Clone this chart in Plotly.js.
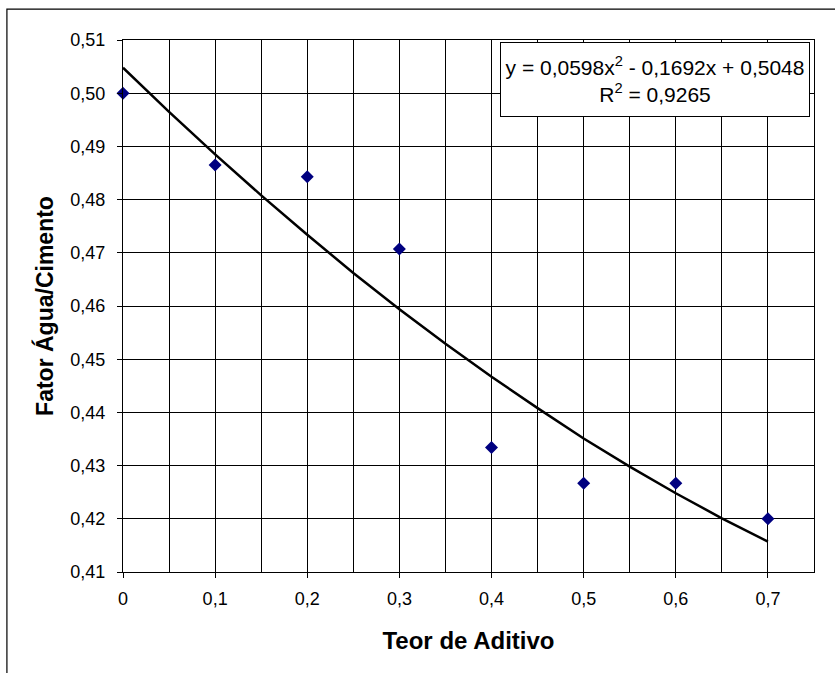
<!DOCTYPE html>
<html>
<head>
<meta charset="utf-8">
<script src="https://cdn.plot.ly/plotly-3.0.1.min.js"></script>
<style>html,body{margin:0;padding:0;background:#fff;}#chart{width:835px;height:673px;}</style>
</head>
<body>
<div id="chart"></div>
<script>
// Measured data
const teor = [0, 0.1, 0.2, 0.3, 0.4, 0.5, 0.6, 0.7];
const fator = [0.500, 0.4865, 0.4843, 0.4707, 0.4334, 0.4267, 0.4267, 0.4200];

// Trendline
const trendX = [0, 0.05, 0.1, 0.15, 0.2, 0.25, 0.3, 0.35, 0.4, 0.45, 0.5, 0.55, 0.6, 0.65, 0.7];
const trendY = [0.5048, 0.4965, 0.4885, 0.4808, 0.4734, 0.4662, 0.4594, 0.4529, 0.4467, 0.4408, 0.4351, 0.4298, 0.4248, 0.4201, 0.4157];

const xTitle = 'Teor de Aditivo';
const yTitle = 'Fator Água/Cimento';
const eqText = 'y = 0,0598x<sup>2</sup> - 0,1692x + 0,5048<br>R<sup>2</sup> = 0,9265';

const font = 'Liberation Sans, Arial, sans-serif';

const traces = [
  {
    x: teor, y: fator, type: 'scatter', mode: 'markers',
    marker: {symbol: 'diamond', size: 10, color: '#000080'},
    showlegend: false, cliponaxis: false
  },
  {
    x: trendX, y: trendY, type: 'scatter', mode: 'lines',
    line: {color: '#000', width: 2.5},
    showlegend: false
  }
];

const layout = {
  width: 835, height: 673,
  margin: {l: 123, r: 21, t: 40, b: 101},
  paper_bgcolor: '#fff', plot_bgcolor: '#fff',
  separators: ',.',
  font: {family: font, color: '#000', size: 18},
  showlegend: false,
  xaxis: {
    range: [0, 0.75], dtick: 0.1, tick0: 0,
    showgrid: true, gridcolor: '#000', gridwidth: 1,
    minor: {dtick: 0.05, tick0: 0, showgrid: true, gridcolor: '#000', gridwidth: 1, ticks: ''},
    ticks: 'outside', ticklen: 5, tickcolor: '#000', tickwidth: 1,
    ticklabelstandoff: 5,
    showline: true, linecolor: '#000', linewidth: 1, mirror: true,
    zeroline: false,
    tickfont: {family: font, size: 18, color: '#000'},
    title: {text: '<b>' + xTitle + '</b>', font: {family: font, size: 24, color: '#000'}, standoff: 24}
  },
  yaxis: {
    range: [0.41, 0.51], dtick: 0.01, tick0: 0.41,
    tickformat: '.2f',
    showgrid: true, gridcolor: '#000', gridwidth: 1,
    ticks: 'outside', ticklen: 5, tickcolor: '#000', tickwidth: 1,
    ticklabelstandoff: 8,
    showline: true, linecolor: '#000', linewidth: 1, mirror: true,
    zeroline: false,
    tickfont: {family: font, size: 18, color: '#000'},
    title: {text: '<b>' + yTitle + '</b>', font: {family: font, size: 23, color: '#000'}, standoff: 10}
  },
  annotations: [{
    xref: 'paper', yref: 'paper', x: 0.9942, y: 0.996, xanchor: 'right', yanchor: 'top',
    text: eqText, showarrow: false, align: 'center',
    width: 306, height: 71,
    font: {family: font, size: 21, color: '#000'},
    bgcolor: '#fff', bordercolor: '#000', borderwidth: 1, borderpad: 1
  }],
  shapes: [{
    type: 'rect', xref: 'paper', yref: 'paper',
    x0: -0.168, x1: 1.5, y0: -0.5, y1: 1.058,
    line: {color: '#000', width: 1.2}, fillcolor: 'rgba(0,0,0,0)', layer: 'below'
  }]
};

Plotly.newPlot('chart', traces, layout, {displayModeBar: false, staticPlot: true});
</script>
</body>
</html>
